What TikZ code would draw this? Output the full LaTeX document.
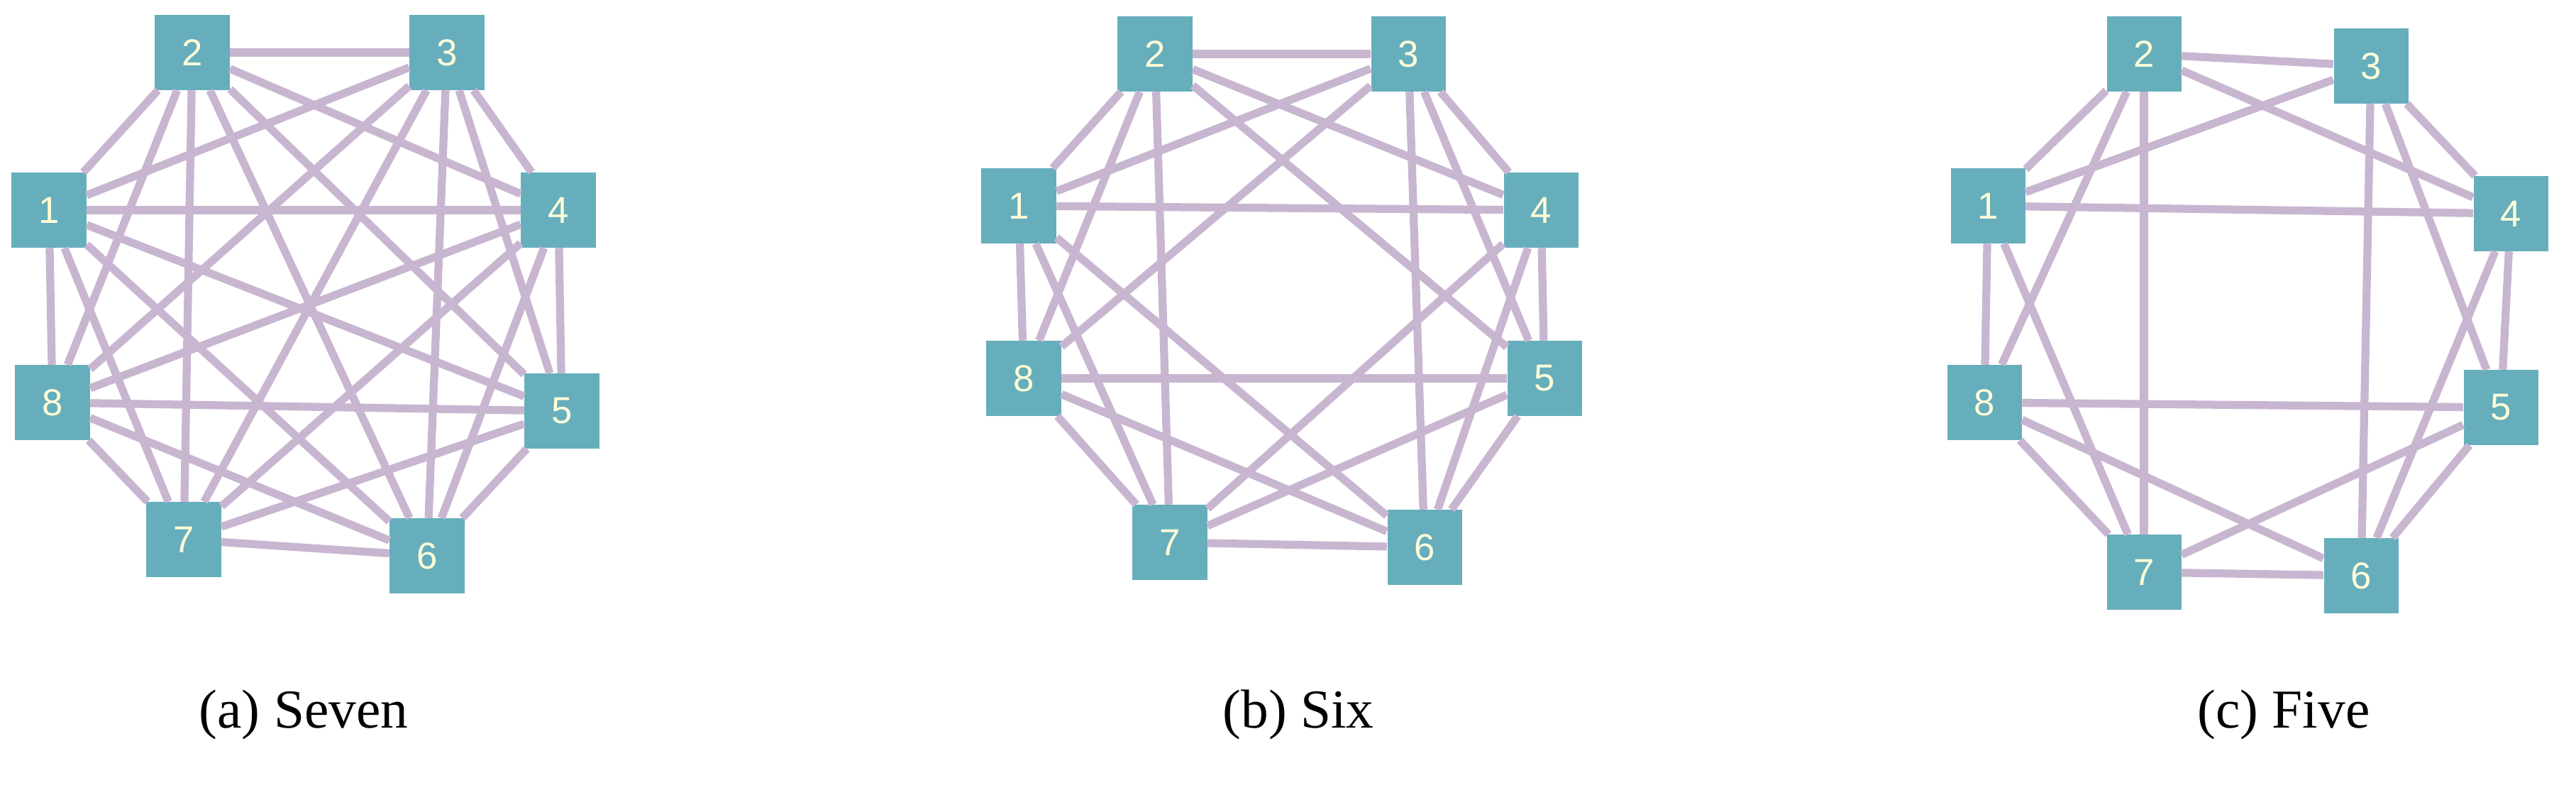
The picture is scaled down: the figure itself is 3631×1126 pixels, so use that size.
\documentclass[tikz,border=0pt]{standalone}
\usepackage{fontspec}
\setmainfont{Liberation Serif}
\newfontfamily\numfont{Liberation Sans}
\definecolor{vtx}{RGB}{102,174,188}
\definecolor{lnk}{RGB}{200,182,208}
\tikzset{
  vertex/.style={rectangle, minimum width=1.05cm, minimum height=1.05cm, fill=vtx, text=yellow!15, font=\numfont\fontsize{15}{17}\selectfont, inner sep=0pt},
  link/.style={draw=lnk, line width=3.2pt},
  caption/.style={font=\fontsize{22}{26}\selectfont}
}
\begin{document}
\begin{tikzpicture}[x=0.01cm, y=-0.01cm]
\useasboundingbox (0,0) rectangle (3631,1126);
% vertices of the three graphs
\foreach \n/\x/\y in {1/69/296, 2/271/74, 3/630/74, 4/787/296, 5/792/579, 6/602/783, 7/259/760, 8/74/567}
  \node (a\n) [vertex] at (\x,\y) {\n};
\foreach \n/\x/\y in {1/1436/290, 2/1628/76, 3/1985/76, 4/2172/296, 5/2177/533, 6/2008/771, 7/1649/764, 8/1443/533}
  \node (b\n) [vertex] at (\x,\y) {\n};
\foreach \n/\x/\y in {1/2802/290, 2/3022/76, 3/3342/93, 4/3539/301, 5/3525/574, 6/3328/811, 7/3022/806, 8/2797/567}
  \node (c\n) [vertex] at (\x,\y) {\n};

% (a) every pair
\foreach \i in {1,...,7} {
  \pgfmathtruncatemacro{\j}{\i+1}
  \foreach \k in {\j,...,8}
    \draw[link] (a\i) -- (a\k);
}
% (b) every pair but the opposite ones
\foreach \i/\k in {1/2,1/3,1/4,1/6,1/7,1/8, 2/3,2/4,2/5,2/7,2/8, 3/4,3/5,3/6,3/8,
                   4/5,4/6,4/7, 5/6,5/7,5/8, 6/7,6/8, 7/8}
  \draw[link] (b\i) -- (b\k);
% (c)
\foreach \i/\k in {1/2,1/3,1/4,1/7,1/8, 2/3,2/4,2/7,2/8, 3/4,3/5,3/6,
                   4/5,4/6, 5/6,5/7,5/8, 6/7,6/8, 7/8}
  \draw[link] (c\i) -- (c\k);

\node (capa) [caption] at (428,1007) {(a) Seven};
\node (capb) [caption] at (1830,1007) {(b) Six};
\node (capc) [caption] at (3219,1007) {(c) Five};
\end{tikzpicture}
\end{document}
